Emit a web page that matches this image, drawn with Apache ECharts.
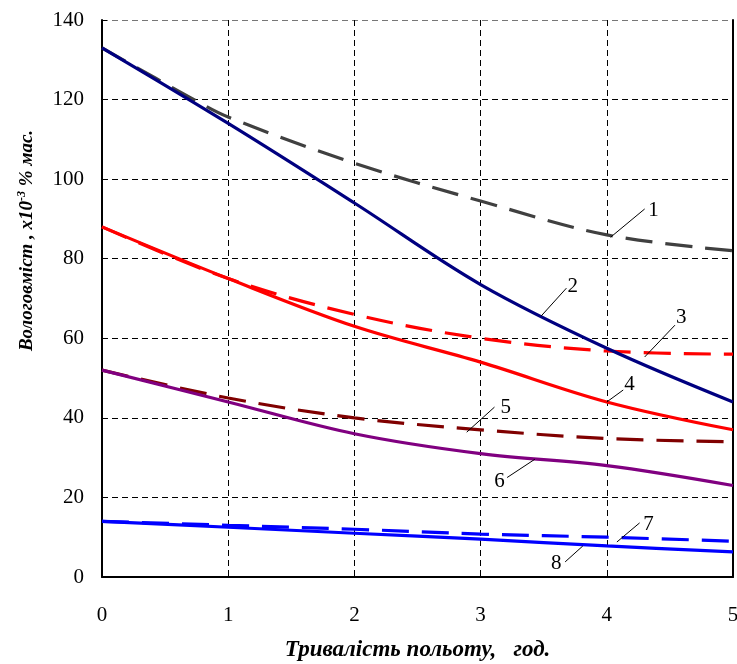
<!DOCTYPE html>
<html>
<head>
<meta charset="utf-8">
<script src="https://cdn.jsdelivr.net/npm/echarts@6/dist/echarts.min.js"></script>
<style>
  html, body { margin: 0; padding: 0; background: #fff; }
  #chart { width: 737px; height: 664px; }
</style>
</head>
<body>
<div id="chart"></div>
<script>
// тривалість польоту, год
const hours = [0, 1, 2, 3, 4, 5]
const hours1 = [0, 0.7, 1, 2, 3, 4, 5]
const s1 = [133, 120.5, 115.6, 104, 94.5, 86, 82]
const s2 = [133, 114, 94, 73.5, 57.5, 44]
const s3 = [88, 75, 66, 60, 56.8, 56]
const s4 = [88, 75, 63, 54, 44, 37]
const s5 = [52, 45, 40, 37, 34.8, 34]
const s6 = [52, 44, 36, 31, 28, 23]
const s7 = [14, 13, 12, 10.8, 10, 9]
const s8 = [14, 12.5, 11, 9.5, 7.8, 6.3]
// номери кривих: початок і кінець виноски, позиція цифри
const callouts = [
  [4.03, 85.4, 4.3, 92.5, '1', 4.37, 92],
  [3.48, 65.6, 3.68, 72.6, '2', 3.73, 73],
  [4.3, 55.3, 4.54, 63.3, '3', 4.59, 65.3],
  [4.0, 44, 4.13, 47, '4', 4.18, 48.3],
  [2.89, 36.4, 3.11, 42.7, '5', 3.2, 42.7],
  [3.43, 29.6, 3.21, 25, '6', 3.15, 24],
  [4.08, 8.8, 4.26, 13.6, '7', 4.33, 13.2],
  [3.81, 7.8, 3.67, 3.8, '8', 3.6, 3.4]
]

const chart = echarts.init(document.getElementById('chart'))

function line(name, xs, data, color, dash) {
  return {
    name: name,
    type: 'line',
    data: xs.map((h, i) => [h, data[i]]),
    smooth: 0.35,
    symbol: 'none',
    lineStyle: { color: color, width: 3.2, type: dash ? [27, 13] : 'solid' },
    z: dash ? 3 : 4
  }
}

const font = '"Liberation Serif", "Times New Roman", serif'
const gridColors = ['#000', '#000', '#000', '#000', '#000', '#000', '#000', '#777']

chart.setOption({
  animation: false,
  textStyle: { fontFamily: font },
  grid: { left: 102, right: 4, top: 20, bottom: 87, outerBoundsMode: 'none' },
  xAxis: {
    type: 'value',
    min: 0,
    max: 5,
    interval: 1,
    name: 'Тривалість польоту,   год.',
    nameLocation: 'middle',
    nameGap: 62,
    nameTextStyle: { fontFamily: font, fontSize: 23, fontWeight: 'bold', fontStyle: 'italic', color: '#000' },
    axisLine: { lineStyle: { color: '#000', width: 2 } },
    axisTick: { inside: true, length: 5, lineStyle: { color: '#000' } },
    axisLabel: { margin: 28, fontFamily: font, fontSize: 21, color: '#000' },
    splitLine: { show: true, lineStyle: { color: '#000', type: [6, 4], width: 1 } }
  },
  yAxis: [{
    type: 'value',
    min: 0,
    max: 140,
    interval: 20,
    name: '{a|Вологовміст , x10}{sup|-3}{a| % мас.}',
    nameLocation: 'middle',
    nameGap: 64,
    nameRotate: 90,
    nameTextStyle: {
      padding: [0, 0, 0, 116],
      rich: {
        a: { fontFamily: font, fontSize: 19, fontWeight: 'bold', fontStyle: 'italic', color: '#000' },
        sup: { fontFamily: font, fontSize: 12, fontWeight: 'bold', fontStyle: 'italic', color: '#000', verticalAlign: 'top', padding: [0, 0, 10, 0] }
      }
    },
    axisLine: { lineStyle: { color: '#000', width: 2 } },
    axisTick: { inside: true, length: 5, lineStyle: { color: '#000' } },
    axisLabel: { margin: 18, fontFamily: font, fontSize: 21, color: '#000' },
    splitLine: { show: true, lineStyle: { color: gridColors, type: [6, 4], width: 1 } }
  }, {
    type: 'value',
    position: 'right',
    min: 0,
    max: 140,
    interval: 20,
    axisLine: { show: true, lineStyle: { color: '#000', width: 2 } },
    axisTick: { show: false },
    axisLabel: { show: false },
    splitLine: { show: false }
  }],
  series: [
    line('1', hours1, s1, '#404040', true),
    line('2', hours, s2, '#000080', false),
    line('3', hours, s3, '#ff0000', true),
    line('4', hours, s4, '#ff0000', false),
    line('5', hours, s5, '#800000', true),
    line('6', hours, s6, '#800080', false),
    line('7', hours, s7, '#0000ff', true),
    line('8', hours, s8, '#0000ff', false),
    {
      type: 'custom',
      data: callouts,
      z: 10,
      renderItem: function (params, api) {
        const p1 = api.coord([api.value(0), api.value(1)])
        const p2 = api.coord([api.value(2), api.value(3)])
        const pt = api.coord([api.value(5), api.value(6)])
        return {
          type: 'group',
          children: [
            { type: 'line', shape: { x1: p1[0], y1: p1[1], x2: p2[0], y2: p2[1] }, style: { stroke: '#000', lineWidth: 1 } },
            { type: 'text', x: pt[0], y: pt[1], style: { text: callouts[params.dataIndex][4], fontFamily: font, fontSize: 21, fill: '#000', align: 'center', verticalAlign: 'middle' } }
          ]
        }
      }
    }
  ]
})
</script>
</body>
</html>
